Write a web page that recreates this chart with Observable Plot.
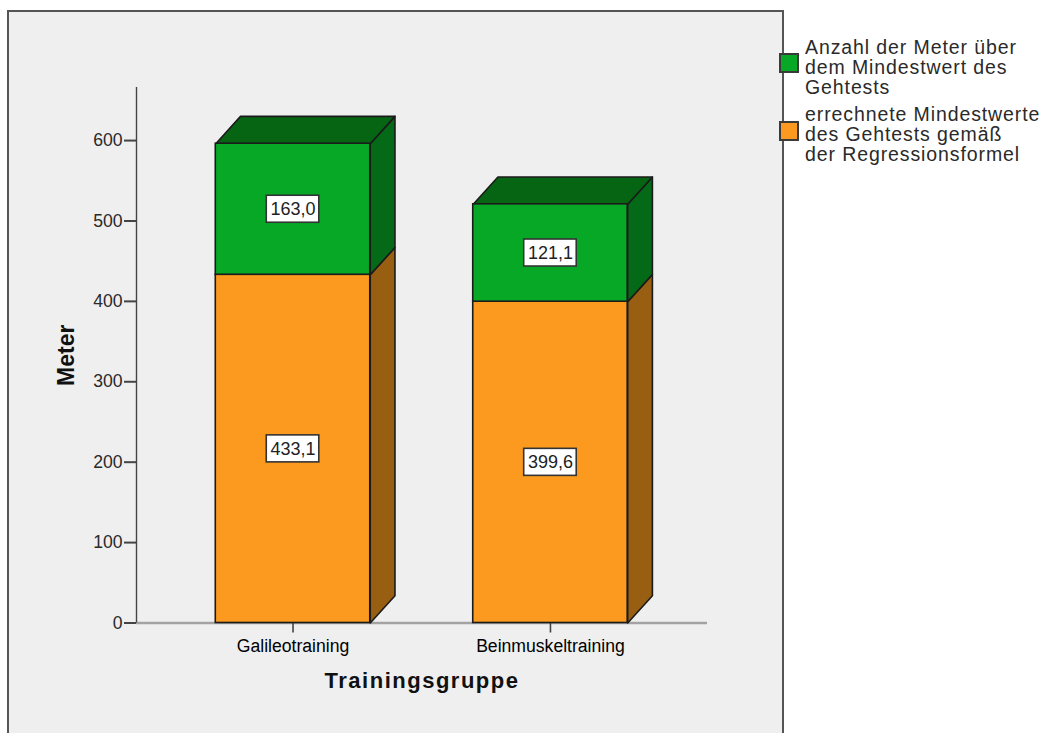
<!DOCTYPE html>
<html lang="de">
<head>
<meta charset="utf-8">
<title>Meter nach Trainingsgruppe</title>
<script src="https://cdn.jsdelivr.net/npm/d3@7"></script>
<script src="https://cdn.jsdelivr.net/npm/@observablehq/plot@0.6"></script>
<style>
  html, body { margin: 0; padding: 0; background: #fff; overflow: hidden; }
  #stage { position: relative; width: 1043px; height: 733px; overflow: hidden; font-family: "Liberation Sans", Arial, sans-serif; }
  #panel { position: absolute; left: 7px; top: 10px; width: 773px; height: 760px; background: #efefef; border: 2px solid #555; }
  #chart { position: absolute; left: 0; top: 0; }
  .key { position: absolute; left: 805px; font-size: 19.5px; line-height: 20px; color: #2a2a2a; letter-spacing: 0.9px; white-space: pre; }
  .swatch { position: absolute; left: 779px; width: 20px; height: 20px; box-sizing: border-box; border: 2px solid #3a3a3a; }
  .spaced text { letter-spacing: 1.5px; }
</style>
</head>
<body>
<div id="stage">
  <div id="panel"></div>
  <div id="chart"></div>
  <div class="swatch" style="top:53px;background:#06a826"></div>
  <div class="key" style="top:37px">Anzahl der Meter über
dem Mindestwert des
Gehtests</div>
  <div class="swatch" style="top:121px;background:#fb9a1e"></div>
  <div class="key" style="top:104px">errechnete Mindestwerte
des Gehtests gemäß
der Regressionsformel</div>
</div>
<script>
// Werte je Trainingsgruppe
const categories = ["Galileotraining", "Beinmuskeltraining"];
const minimumValues = [433.1, 399.6];
const metersAbove = [163.0, 121.1];
const yTicks = [0, 100, 200, 300, 400, 500, 600];

// Balkengeometrie in Achseneinheiten (Kategorie = 0, 1)
const halfBar = 0.3;
const depthX = 0.096;
const depthY = 34;
const boxHalfX = 0.102;
const boxHalfY = 16.8;
const edge = "#1b1b1b";
const edgeWidth = 1.6;

const fronts = [];
const boxes = [];
const sides = [];
const tops = [];

categories.forEach((name, i) => {
  const base = minimumValues[i];
  const total = base + metersAbove[i];
  const segments = [
    {lo: 0, hi: base, value: base, front: "#fb9a1e", side: "#985f12", key: "o"},
    {lo: base, hi: total, value: metersAbove[i], front: "#06a826", side: "#056a17", key: "g"}
  ];
  for (const s of segments) {
    fronts.push({x1: i - halfBar, x2: i + halfBar, y1: s.lo, y2: s.hi, fill: s.front});
    boxes.push({x: i, y: (s.lo + s.hi) / 2, label: s.value.toFixed(1).replace(".", ",")});
    const id = `${i}${s.key}`;
    sides.push(
      {id, color: s.side, x: i + halfBar, y: s.lo},
      {id, color: s.side, x: i + halfBar + depthX, y: s.lo + depthY},
      {id, color: s.side, x: i + halfBar + depthX, y: s.hi + depthY},
      {id, color: s.side, x: i + halfBar, y: s.hi}
    );
  }
  tops.push(
    {id: i, x: i - halfBar, y: total},
    {id: i, x: i - halfBar + depthX, y: total + depthY},
    {id: i, x: i + halfBar + depthX, y: total + depthY},
    {id: i, x: i + halfBar, y: total}
  );
});

const tickFont = {fontFamily: "Liberation Sans, Arial, sans-serif", fontSize: 17.6};
const titleFont = {fontFamily: "Liberation Sans, Arial, sans-serif", fontWeight: "bold", fill: "#111"};

const faces = (rows, color) => Plot.line(rows, {
  x: "x", y: "y", z: "id", fill: color, stroke: edge, strokeWidth: edgeWidth,
  curve: "linear-closed", strokeLinejoin: "round"
});

const plot = Plot.plot({
  width: 1043,
  height: 733,
  marginLeft: 136,
  marginRight: 336,
  marginTop: 87,
  marginBottom: 110.5,
  style: {background: "transparent", overflow: "visible"},
  x: {domain: [-0.608, 1.61], axis: null},
  y: {domain: [0, 666], axis: null},
  marks: [
    Plot.ruleY([0], {stroke: "#a3a3a3", strokeWidth: 2.5}),
    Plot.ruleX([-0.608], {y1: 0, y2: 666, stroke: "#444", strokeWidth: 1.4}),
    Plot.axisY({ticks: yTicks, anchor: "left", tickSize: 12, tickPadding: 2, label: null, stroke: "#444", strokeWidth: 2, color: "#2a2a2a", strokeOpacity: 1, ...tickFont}),
    Plot.axisX({ticks: [0, 1], anchor: "bottom", tickSize: 10, tickPadding: 6, label: null, tickFormat: (d) => categories[d], stroke: "#444", strokeWidth: 1.6, ...tickFont}),
    faces(sides.filter((d) => d.color === "#985f12"), "#985f12"),
    faces(sides.filter((d) => d.color === "#056a17"), "#056a17"),
    faces(tops, "#056513"),
    Plot.rect(fronts, {x1: "x1", x2: "x2", y1: "y1", y2: "y2", fill: "fill", stroke: edge, strokeWidth: edgeWidth}),
    Plot.rect(boxes, {
      x1: (d) => d.x - boxHalfX, x2: (d) => d.x + boxHalfX,
      y1: (d) => d.y - boxHalfY, y2: (d) => d.y + boxHalfY,
      fill: "#fff", stroke: "#333", strokeWidth: 1.6
    }),
    Plot.text(boxes, {x: "x", y: "y", text: "label", fill: "#222", ...tickFont, fontSize: 18}),
    Plot.text(["Trainingsgruppe"], {frameAnchor: "bottom", dy: 65, className: "spaced", ...titleFont, fontSize: 22}),
    Plot.text(["Meter"], {frameAnchor: "left", textAnchor: "middle", dx: -70, rotate: -90, ...titleFont, fontSize: 23})
  ]
});

document.getElementById("chart").appendChild(plot);
</script>
</body>
</html>
